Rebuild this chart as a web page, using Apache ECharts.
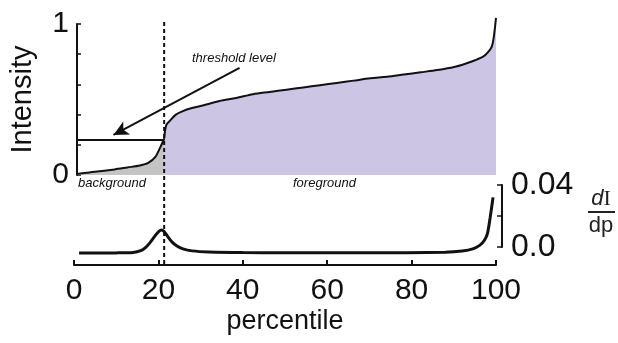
<!DOCTYPE html>
<html>
<head>
<meta charset="utf-8">
<script src="https://cdn.jsdelivr.net/npm/echarts@6/dist/echarts.min.js"></script>
<style>
    html, body { margin: 0; padding: 0; background: #fff; }
    #chart { width: 618px; height: 343px; }
</style>
</head>
<body>
<div id="chart"></div>
<script>
// 强度曲线 - 背景段 (percentile, intensity)
var bgPct = [0, 3, 6, 9, 12, 15, 17, 18.7, 19.9, 20.8];
var bgInt = [0.007, 0.017, 0.026, 0.037, 0.05, 0.063, 0.08, 0.12, 0.185, 0.24];
// 强度曲线 - 前景段
var fgPct = [20.8, 21.3, 22.2, 23.6, 25, 27, 30, 34, 38, 42, 46, 50, 54, 58, 62, 66, 70, 74, 78, 82, 86, 90, 93, 95, 97, 98, 99, 99.5, 100];
var fgInt = [0.24, 0.33, 0.36, 0.40, 0.42, 0.44, 0.46, 0.49, 0.51, 0.535, 0.55, 0.565, 0.58, 0.595, 0.61, 0.625, 0.64, 0.65, 0.665, 0.68, 0.695, 0.715, 0.74, 0.76, 0.785, 0.81, 0.85, 0.92, 1.04];
// 导数 dI/dp
var dPct = [1.2, 10, 14, 15.8, 17, 18.2, 19.2, 20, 20.7, 21.4, 22.2, 23.2, 24.4, 25.8, 28, 32, 40, 50, 70, 88, 92, 94.5, 96.2, 97.3, 98, 98.6, 99.3];
var dVal = [-0.0039, -0.0038, -0.0035, -0.0024, -0.0002, 0.0035, 0.0072, 0.0098, 0.011, 0.0098, 0.0068, 0.0033, 0.0006, -0.0012, -0.0025, -0.0032, -0.0036, -0.0037, -0.0037, -0.0034, -0.0026, -0.0012, 0.0012, 0.0045, 0.009, 0.0187, 0.032];
// 阈值
var thresholdPct = 20.8;
var thresholdLevel = 0.232;
// 箭头 起点/终点
var arrowFrom = [38.8, 0.71];
var arrowTo = [8.7, 0.265];
// 虚线上下端 (以上图坐标表示)
var dashedTop = 1.013;
var dashedBottom = -0.596;
// 刻度文字
var xTicks = [0, 20, 40, 60, 80, 100];
var intensityTicks = { 0: '0', 1: '1' };
var derivTicks = { 0: '0.0', 0.04: '0.04' };

function zip(a, b) {
    return a.map(function(v, i) { return [v, b[i]]; });
}

var FONT = 'Liberation Sans';
var axisColor = '#111';

var option = {
    animation: false,
    grid: [
        { left: 74, width: 422, top: 24, height: 151 },
        { left: 74, width: 422, top: 185, height: 62 }
    ],
    xAxis: [{
        gridIndex: 0,
        type: 'value',
        min: 0,
        max: 100,
        show: false
    }, {
        gridIndex: 1,
        type: 'value',
        min: 0,
        max: 100,
        interval: 20,
        position: 'bottom',
        offset: 18,
        axisLine: { show: true, onZero: false, lineStyle: { color: axisColor, width: 2 } },
        axisTick: { show: true, inside: true, length: 5, lineStyle: { color: axisColor, width: 2 } },
        axisLabel: {
            color: '#111',
            fontFamily: FONT,
            fontSize: 30,
            margin: 11,
            formatter: function(v) { return xTicks.indexOf(v) >= 0 ? String(v) : ''; }
        },
        splitLine: { show: false },
        name: 'percentile',
        nameLocation: 'middle',
        nameGap: 43,
        nameTextStyle: { color: '#111', fontFamily: FONT, fontSize: 27 }
    }],
    yAxis: [{
        gridIndex: 0,
        type: 'value',
        min: 0,
        max: 1,
        interval: 0.2,
        axisLine: { show: true, onZero: false, lineStyle: { color: axisColor, width: 2 } },
        axisTick: { show: true, inside: true, length: 4, lineStyle: { color: axisColor, width: 1.5 } },
        axisLabel: {
            color: '#111',
            fontFamily: FONT,
            fontSize: 30,
            margin: 8,
            formatter: function(v) { return intensityTicks[v] !== undefined ? intensityTicks[v] : ''; }
        },
        splitLine: { show: false },
        name: 'Intensity',
        nameLocation: 'middle',
        nameRotate: 90,
        nameGap: 40,
        nameTextStyle: { color: '#111', fontFamily: FONT, fontSize: 29 }
    }, {
        gridIndex: 1,
        type: 'value',
        position: 'right',
        offset: 6,
        min: 0,
        max: 0.04,
        interval: 0.02,
        axisLine: { show: true, onZero: false, lineStyle: { color: axisColor, width: 2 } },
        axisTick: { show: true, inside: true, length: 5, lineStyle: { color: axisColor, width: 1.5 } },
        axisLabel: {
            color: '#111',
            fontFamily: FONT,
            fontSize: 32,
            margin: 9,
            formatter: function(v) {
                var k = Math.round(v * 100) / 100;
                return derivTicks[k] !== undefined ? derivTicks[k] : '';
            }
        },
        splitLine: { show: false }
    }],
    series: [{
        // 背景 灰色
        type: 'line',
        xAxisIndex: 0,
        yAxisIndex: 0,
        data: zip(bgPct, bgInt),
        showSymbol: false,
        symbol: 'none',
        smooth: 0.3,
        clip: false,
        lineStyle: { color: '#111', width: 2 },
        areaStyle: { color: '#c4c4c4', opacity: 1 },
        markLine: {
            silent: true,
            animation: false,
            label: { show: false },
            emphasis: { disabled: true },
            data: [
                [
                    { coord: [0, thresholdLevel], symbol: 'none' },
                    { coord: [thresholdPct, thresholdLevel], symbol: 'none', lineStyle: { color: '#111', width: 2, type: 'solid' } }
                ],
                [
                    { coord: arrowFrom, symbol: 'none' },
                    { coord: arrowTo, symbol: 'arrow', symbolSize: [11, 15], lineStyle: { color: '#111', width: 2, type: 'solid' } }
                ]
            ],
            lineStyle: { color: '#111', width: 2, type: 'solid' }
        }
    }, {
        // 前景 紫色
        type: 'line',
        xAxisIndex: 0,
        yAxisIndex: 0,
        data: zip(fgPct, fgInt),
        showSymbol: false,
        symbol: 'none',
        smooth: 0.3,
        clip: false,
        lineStyle: { color: '#111', width: 2 },
        areaStyle: { color: '#cdc5e4', opacity: 1 }
    }, {
        // 阈值虚线
        type: 'line',
        xAxisIndex: 0,
        yAxisIndex: 0,
        data: [[thresholdPct, dashedTop], [thresholdPct, dashedBottom]],
        showSymbol: false,
        symbol: 'none',
        clip: false,
        z: 5,
        lineStyle: { color: '#111', width: 2, type: [4, 3] }
    }, {
        // 导数
        type: 'line',
        xAxisIndex: 1,
        yAxisIndex: 1,
        data: zip(dPct, dVal),
        showSymbol: false,
        symbol: 'none',
        smooth: 0.25,
        clip: false,
        lineStyle: { color: '#111', width: 3 }
    }],
    graphic: [{
        type: 'text',
        left: 192,
        top: 52,
        style: { text: 'threshold level', fill: '#111', font: 'italic 13px "Liberation Sans"' }
    }, {
        type: 'text',
        left: 78,
        top: 177,
        style: { text: 'background', fill: '#111', font: 'italic 13px "Liberation Sans"' }
    }, {
        type: 'text',
        left: 293,
        top: 177,
        style: { text: 'foreground', fill: '#111', font: 'italic 13px "Liberation Sans"' }
    }, {
        type: 'text',
        x: 601,
        y: 210,
        style: {
            text: '{d|d}{i|I}',
            align: 'center',
            verticalAlign: 'bottom',
            rich: {
                d: { fontFamily: FONT, fontStyle: 'italic', fontSize: 22, fill: '#222' },
                i: { fontFamily: 'Liberation Serif', fontSize: 22, fill: '#222' }
            }
        }
    }, {
        type: 'line',
        shape: { x1: 588, y1: 212, x2: 615, y2: 212 },
        style: { stroke: '#222', lineWidth: 2 }
    }, {
        type: 'text',
        x: 601,
        y: 215,
        style: { text: 'dp', align: 'center', verticalAlign: 'top', fill: '#222', font: '22px "Liberation Sans"' }
    }]
};

var myChart = echarts.init(document.getElementById('chart'));
myChart.setOption(option);
</script>
</body>
</html>
